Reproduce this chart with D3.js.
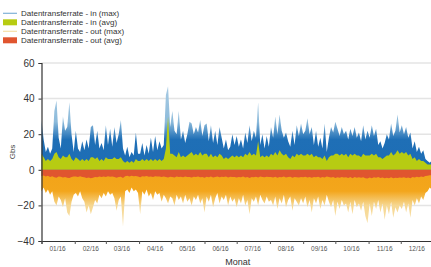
<!DOCTYPE html>
<html>
<head>
<meta charset="utf-8">
<script src="https://cdn.jsdelivr.net/npm/d3@7"></script>
<style>
  body { margin: 0; background: #fff; }
  svg { display: block; font-family: "Liberation Sans", Arial, sans-serif; }
</style>
</head>
<body>
<div id="chart"></div>
<script>
// Data: one value every 2 days, Jan 2016 .. Dec 2016 (Gbs)
const startDate = new Date(2016, 0, 1);
const inMax = [
  28, 17, 10, 13, 9, 12, 33, 39, 18, 12, 30, 22, 24, 38, 20, 10,
  22, 12, 10, 16, 11, 17, 12, 24, 25, 14, 22, 12, 15, 11,
  25, 14, 23, 13, 24, 15, 20, 28, 12, 8, 13, 7, 10, 8, 21, 9,
  9, 15, 8, 14, 9, 18, 10, 19, 11, 16, 12, 14, 42, 47, 24,
  33, 22, 20, 33, 17, 22, 15, 20, 27, 26, 20, 24, 21, 28, 19, 25,
  26, 16, 25, 15, 22, 14, 24, 18, 12, 17, 11, 13, 20, 14, 19,
  13, 17, 12, 21, 15, 25, 16, 22, 18, 38, 14, 20, 12, 19, 13,
  24, 18, 30, 20, 31, 22, 18, 21, 16, 13, 22, 14, 25, 19, 26, 20,
  22, 29, 20, 24, 14, 22, 13, 18, 12, 26, 10, 18, 24, 21, 27,
  23, 19, 24, 20, 22, 17, 23, 19, 24, 18, 21, 16, 25, 17, 22,
  18, 25, 19, 23, 14, 16, 12, 15, 20, 17, 26, 19, 22, 31, 21,
  25, 20, 24, 18, 21, 12, 16, 10, 13, 9, 11, 6, 5, 4, 5
];
const inAvg = [
  9, 7, 5, 6, 5, 6, 9, 10, 7, 6, 8, 7, 7, 9, 6, 5,
  7, 6, 5, 6, 5, 6, 5, 7, 7, 6, 7, 5, 6, 5,
  7, 6, 6, 6, 7, 6, 6, 7, 5, 4, 5, 4, 5, 4, 6, 5,
  5, 6, 5, 6, 5, 6, 5, 6, 5, 6, 5, 6, 12, 30, 9,
  9, 8, 7, 10, 7, 8, 7, 8, 9, 10, 8, 9, 8, 10, 8, 9,
  9, 7, 9, 7, 8, 7, 9, 8, 6, 7, 6, 7, 8, 7, 8,
  7, 8, 7, 9, 8, 10, 8, 9, 8, 16, 7, 8, 7, 8, 7,
  9, 8, 10, 8, 11, 9, 8, 9, 7, 6, 8, 7, 9, 8, 9, 8,
  8, 9, 8, 9, 7, 8, 7, 7, 6, 8, 5, 7, 8, 8, 9,
  9, 8, 9, 8, 9, 7, 9, 8, 9, 8, 8, 7, 9, 8, 8,
  8, 9, 8, 9, 7, 7, 6, 7, 8, 8, 10, 8, 9, 11, 9,
  10, 9, 10, 8, 9, 6, 7, 5, 6, 5, 5, 4, 3, 3, 3
];
const outMax = [
  -12, -10, -13, -11, -14, -12, -18, -20, -15, -17, -21, -16, -24, -26, -18, -14,
  -13, -15, -12, -16, -18, -24, -20, -25, -21, -17, -19, -14, -16, -13,
  -15, -12, -14, -13, -16, -23, -17, -15, -32, -12, -11, -13, -10, -12, -11, -13,
  -25, -12, -14, -11, -15, -13, -17, -12, -14, -13, -18, -14, -16, -19, -15,
  -16, -20, -14, -17, -15, -19, -14, -18, -16, -20, -15, -17, -14, -19, -16, -24,
  -15, -18, -14, -21, -16, -13, -19, -15, -17, -14, -20, -15, -18, -16, -21,
  -16, -19, -14, -20, -17, -25, -16, -18, -15, -20, -14, -17, -19, -15, -18,
  -17, -20, -15, -22, -16, -19, -14, -21, -17, -15, -23, -16, -18, -20, -16, -19,
  -15, -21, -17, -24, -16, -19, -15, -22, -17, -20, -14, -18, -21, -17, -26,
  -18, -22, -17, -20, -19, -24, -18, -25, -17, -21, -19, -23, -18, -26, -30,
  -19, -26, -18, -22, -17, -24, -19, -28, -20, -25, -18, -27, -21, -24, -20,
  -22, -18, -24, -19, -27, -17, -20, -16, -19, -15, -17, -13, -12, -10, -11
];
const outAvg = [
  -3.5, -3.2, -3.8, -3.4, -4.0, -3.6, -4.2, -4.4, -3.8, -3.9, -4.3, -4.0, -4.5, -4.6, -4.1, -3.7,
  -3.8, -4.0, -3.6, -4.1, -4.2, -4.6, -4.3, -4.7, -4.4, -4.0, -4.2, -3.8, -4.0, -3.7,
  -4.0, -3.6, -3.9, -3.7, -4.1, -4.4, -4.0, -3.9, -4.6, -3.6, -3.4, -3.7, -3.3, -3.6, -3.5, -3.7,
  -4.2, -3.6, -3.8, -3.5, -3.9, -3.7, -4.0, -3.6, -3.8, -3.7, -4.1, -3.8, -4.0, -4.3, -3.9,
  -4.0, -4.3, -3.8, -4.1, -3.9, -4.2, -3.8, -4.1, -4.0, -4.3, -3.9, -4.1, -3.8, -4.2, -4.0, -4.5,
  -3.9, -4.2, -3.8, -4.3, -4.0, -3.7, -4.2, -3.9, -4.1, -3.8, -4.3, -3.9, -4.1, -4.0, -4.3,
  -4.0, -4.2, -3.8, -4.3, -4.1, -4.6, -4.0, -4.2, -3.9, -4.3, -3.8, -4.1, -4.2, -3.9, -4.1,
  -4.1, -4.3, -3.9, -4.4, -4.0, -4.2, -3.8, -4.3, -4.1, -3.9, -4.5, -4.0, -4.2, -4.3, -4.0, -4.2,
  -3.9, -4.3, -4.1, -4.5, -4.0, -4.2, -3.9, -4.4, -4.1, -4.3, -3.8, -4.1, -4.3, -4.1, -4.6,
  -4.2, -4.4, -4.1, -4.3, -4.2, -4.6, -4.1, -4.7, -4.1, -4.4, -4.2, -4.5, -4.2, -4.7, -4.9,
  -4.3, -4.7, -4.2, -4.5, -4.1, -4.6, -4.3, -4.8, -4.4, -4.7, -4.2, -4.8, -4.4, -4.6, -4.3,
  -4.5, -4.2, -4.6, -4.3, -4.8, -4.1, -4.3, -3.9, -4.2, -3.8, -4.0, -3.5, -3.3, -3.0, -3.1
];
const yTicks = [-40, -20, 0, 20, 40, 60];
const monthLabels = ["01/16", "02/16", "03/16", "04/16", "05/16", "06/16",
                     "07/16", "08/16", "09/16", "10/16", "11/16", "12/16"];

const legendItems = [
  { label: "Datentransferrate - in (max)", color: "#7fb2d6", kind: "line" },
  { label: "Datentransferrate - in (avg)", color: "#b7cc12", kind: "rect" },
  { label: "Datentransferrate - out (max)", color: "#f6dfa6", kind: "line" },
  { label: "Datentransferrate - out (avg)", color: "#e0552f", kind: "rect" }
];

const W = 431, H = 267;
const margin = { top: 63, right: -3, bottom: 26, left: 41.5 };

const dates = inMax.map((_, i) => d3.timeDay.offset(startDate, 2 * i));
const rows = dates.map((d, i) => ({
  date: d, inMax: inMax[i], inAvg: inAvg[i], outMax: outMax[i], outAvg: outAvg[i]
}));

const svg = d3.select("#chart").append("svg")
  .attr("width", W).attr("height", H);

const x = d3.scaleTime()
  .domain([startDate, new Date(2017, 0, 1)])
  .range([margin.left, W - margin.right]);
const y = d3.scaleLinear()
  .domain([-40, 60])
  .range([H - margin.bottom, margin.top]);

// gradients: peaks of the max series fade to a pale tone
const defs = svg.append("defs");
function fade(id, stops) {
  const g = defs.append("linearGradient").attr("id", id)
    .attr("gradientUnits", "userSpaceOnUse")
    .attr("x1", 0).attr("x2", 0).attr("y1", y(0)).attr("y2", y(stops[stops.length - 1][0]) );
  g.attr("y2", y(60));
  stops.forEach(([v, c]) => {
    g.append("stop").attr("offset", (y(0) - y(v)) / (y(0) - y(60))).attr("stop-color", c);
  });
  return `url(#${id})`;
}
function fadeDown(id, stops) {
  const g = defs.append("linearGradient").attr("id", id)
    .attr("gradientUnits", "userSpaceOnUse")
    .attr("x1", 0).attr("x2", 0).attr("y1", y(0)).attr("y2", y(-40));
  stops.forEach(([v, c]) => {
    g.append("stop").attr("offset", (y(v) - y(0)) / (y(-40) - y(0))).attr("stop-color", c);
  });
  return `url(#${id})`;
}
const blueFill = fade("inMaxFill", [[0, "#1d6db5"], [17, "#1f6fb6"], [27, "#8dbbdb"], [60, "#b9d5e8"]]);
const orangeFill = fadeDown("outMaxFill", [[0, "#f2a318"], [-12, "#f3a61c"], [-20, "#f6d791"], [-40, "#f9e7bd"]]);

// grid lines
svg.append("g")
  .selectAll("line")
  .data(yTicks.filter(t => t !== -40))
  .join("line")
  .attr("x1", margin.left).attr("x2", W)
  .attr("y1", d => y(d)).attr("y2", d => y(d))
  .attr("stroke", "#e4e4e4").attr("stroke-width", 1.5);

// series
const area = key => d3.area()
  .x(d => x(d.date))
  .y0(y(0))
  .y1(d => y(d[key]));

svg.append("path").datum(rows)
  .attr("fill", blueFill).attr("d", area("inMax"));
svg.append("path").datum(rows)
  .attr("fill", orangeFill).attr("d", area("outMax"));
svg.append("path").datum(rows)
  .attr("fill", "#b7cc12").attr("d", area("inAvg"));
svg.append("path").datum(rows)
  .attr("fill", "#e0552f").attr("d", area("outAvg"));

// y axis
const yAxis = svg.append("g")
  .attr("transform", `translate(${margin.left},0)`)
  .call(d3.axisLeft(y).tickValues(yTicks).tickSize(3).tickPadding(4));
yAxis.select(".domain").attr("stroke", "#333").attr("stroke-width", 1.2);
yAxis.selectAll(".tick line").attr("stroke", "#333");
yAxis.selectAll("text").attr("font-size", 10).attr("fill", "#333")
  .attr("font-family", "Liberation Sans, Arial, sans-serif");

// x axis: ticks at month starts, labels centred in months
const monthStarts = d3.timeMonth.range(startDate, new Date(2017, 0, 2));
const xAxis = svg.append("g")
  .attr("transform", `translate(0,${H - margin.bottom})`)
  .call(d3.axisBottom(x).tickValues(monthStarts).tickSize(3).tickFormat(""));
xAxis.select(".domain").attr("stroke", "#333").attr("stroke-width", 1.2);
xAxis.selectAll(".tick line").attr("stroke", "#555");

svg.append("g")
  .selectAll("text")
  .data(monthLabels)
  .join("text")
  .attr("x", (d, i) => x(d3.timeDay.offset(monthStarts[i], 15)))
  .attr("y", H - margin.bottom + 9.5)
  .attr("text-anchor", "middle")
  .attr("font-size", 6.5)
  .attr("fill", "#555")
  .text(d => d);

// axis titles
svg.append("text")
  .attr("x", (margin.left + 434) / 2)
  .attr("y", 265)
  .attr("text-anchor", "middle")
  .attr("font-size", 9)
  .attr("fill", "#333")
  .text("Monat");
svg.append("text")
  .attr("transform", `translate(14.5,${(y(60) + y(-40)) / 2}) rotate(-90)`)
  .attr("text-anchor", "middle")
  .attr("font-size", 8)
  .attr("fill", "#444")
  .text("Gbs");

// legend
const legend = svg.append("g").attr("transform", "translate(3,13.3)");
legendItems.forEach((item, i) => {
  const g = legend.append("g").attr("transform", `translate(0,${i * 9})`);
  if (item.kind === "line") {
    g.append("line").attr("x1", 0).attr("x2", 14).attr("y1", 0).attr("y2", 0)
      .attr("stroke", item.color).attr("stroke-width", 1.2);
  } else {
    g.append("rect").attr("x", 0).attr("y", -3).attr("width", 14).attr("height", 6)
      .attr("fill", item.color);
  }
  g.append("text").attr("x", 18).attr("y", 3)
    .attr("font-size", 8).attr("fill", "#333")
    .text(item.label);
});
</script>
</body>
</html>
